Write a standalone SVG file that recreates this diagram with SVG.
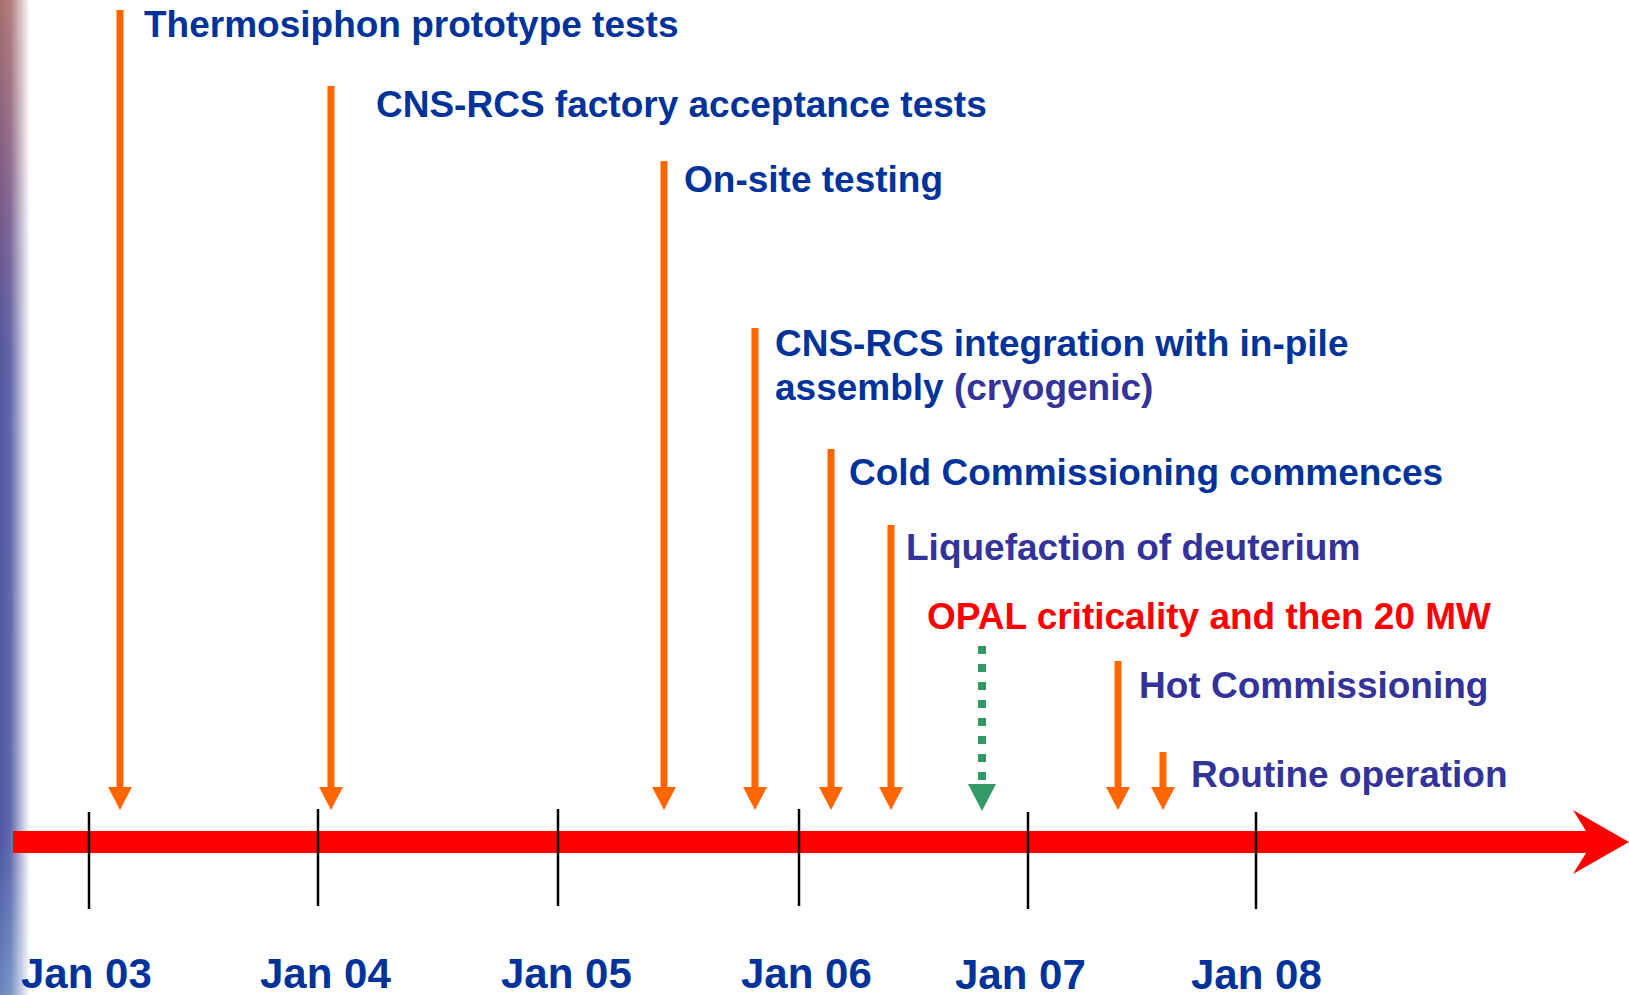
<svg xmlns="http://www.w3.org/2000/svg" width="1629" height="995" viewBox="0 0 1629 995">
<defs>
<style>
.lbl{font-family:"Liberation Sans",Arial,sans-serif;font-weight:bold;font-size:37px}
.blue{fill:#003399}
.purple{fill:#333399}
.red{fill:#FF0000}
.jan{font-family:"Liberation Sans",Arial,sans-serif;font-weight:bold;font-size:42px;fill:#003399}
.shaft{stroke:#FF6600;stroke-width:7;fill:none;marker-end:url(#ah)}
.tick{stroke:#000;stroke-width:2.5}
</style>
<marker id="ah" markerUnits="userSpaceOnUse" markerWidth="24" markerHeight="24" refX="12" refY="12" orient="auto" viewBox="0 0 23 24"><path d="M0,0 L23,12 L0,24 Z" fill="#FF6600"/></marker>
<marker id="gh" markerUnits="userSpaceOnUse" markerWidth="28" markerHeight="28" refX="6" refY="14" orient="auto" viewBox="0 0 27 28"><path d="M0,0 L27,14 L0,28 Z" fill="#339966"/></marker>
<linearGradient id="edgeV" x1="0" y1="0" x2="0" y2="1">
<stop offset="0" stop-color="#a8706e"/>
<stop offset="0.2" stop-color="#7a5a88"/>
<stop offset="0.35" stop-color="#5458a0"/>
<stop offset="0.85" stop-color="#4e5aa6"/>
<stop offset="1" stop-color="#6a88c0"/>
</linearGradient>
<linearGradient id="edgeH" x1="0" y1="0" x2="1" y2="0">
<stop offset="0" stop-color="#fff" stop-opacity="0"/>
<stop offset="0.35" stop-color="#fff" stop-opacity="0.1"/>
<stop offset="1" stop-color="#fff" stop-opacity="1"/>
</linearGradient>
</defs>
<rect width="1629" height="995" fill="#fff"/>
<g id="edge">
<rect x="0" y="0" width="30" height="995" fill="url(#edgeV)"/>
<rect x="0" y="0" width="30" height="995" fill="url(#edgeH)"/>
</g>
<g id="timeline">
<rect x="13" y="831" width="1575" height="22" fill="#FF0000"/>
<polygon points="1573,810 1629,842 1573,874 1586,853 1586,831" fill="#FF0000"/>
</g>
<g id="ticks">
<line class="tick" x1="89" y1="812" x2="89" y2="909"/>
<line class="tick" x1="318" y1="809" x2="318" y2="906"/>
<line class="tick" x1="558" y1="809" x2="558" y2="906"/>
<line class="tick" x1="799" y1="809" x2="799" y2="906"/>
<line class="tick" x1="1028" y1="812" x2="1028" y2="909"/>
<line class="tick" x1="1256" y1="812" x2="1256" y2="909"/>
</g>
<g id="connectors">
<line class="shaft" x1="120" y1="10" x2="120" y2="799"/>
<line class="shaft" x1="331" y1="86" x2="331" y2="799"/>
<line class="shaft" x1="664" y1="161" x2="664" y2="799"/>
<line class="shaft" x1="755" y1="328" x2="755" y2="799"/>
<line class="shaft" x1="831" y1="449" x2="831" y2="799"/>
<line class="shaft" x1="891" y1="525" x2="891" y2="799"/>
<line x1="982" y1="646" x2="982" y2="790" stroke="#339966" stroke-width="8" stroke-dasharray="8 10" marker-end="url(#gh)"/>
<line class="shaft" x1="1118" y1="661" x2="1118" y2="799"/>
<line class="shaft" x1="1163" y1="752" x2="1163" y2="799"/>
</g>
<g id="ev-thermosiphon"><text class="lbl blue" x="144" y="37">Thermosiphon prototype tests</text></g>
<g id="ev-factory"><text class="lbl blue" x="376" y="117">CNS-RCS factory acceptance tests</text></g>
<g id="ev-onsite"><text class="lbl blue" x="684" y="192">On-site testing</text></g>
<g id="ev-integration"><text class="lbl blue" x="775" y="356">CNS-RCS integration with in-pile</text><text class="lbl" x="775" y="400"><tspan class="blue">assembly </tspan><tspan class="purple">(cryogenic)</tspan></text></g>
<g id="ev-cold"><text class="lbl blue" x="849" y="485">Cold Commissioning commences</text></g>
<g id="ev-liquefaction"><text class="lbl purple" x="906" y="560">Liquefaction of deuterium</text></g>
<g id="ev-opal"><text class="lbl red" x="927" y="629">OPAL criticality and then 20 MW</text></g>
<g id="ev-hot"><text class="lbl purple" x="1139" y="698">Hot Commissioning</text></g>
<g id="ev-routine"><text class="lbl purple" x="1191" y="787">Routine operation</text></g>
<g id="dates">
<text class="jan" x="21" y="988">Jan 03</text>
<text class="jan" x="260" y="988">Jan 04</text>
<text class="jan" x="501" y="988">Jan 05</text>
<text class="jan" x="741" y="988">Jan 06</text>
<text class="jan" x="955" y="989">Jan 07</text>
<text class="jan" x="1191" y="989">Jan 08</text>
</g>
</svg>
